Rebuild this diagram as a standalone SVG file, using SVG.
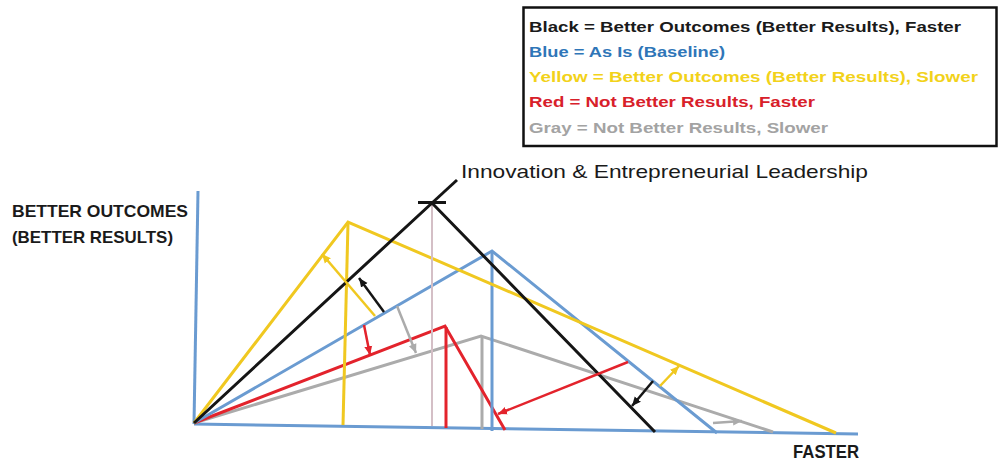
<svg xmlns="http://www.w3.org/2000/svg" width="998" height="461" viewBox="0 0 998 461">
<style>
  text { font-family: "Liberation Sans", Arial, sans-serif; }
  .leg { font-size: 15px; font-weight: bold; }
  .ln { fill: none; stroke-width: 3; stroke-linejoin: miter; stroke-linecap: butt; }
  .ar { fill: none; stroke-width: 2.5; }
  .k { stroke: #151515; }
  .b { stroke: #6A9BD1; }
  .y { stroke: #F0C820; }
  .r { stroke: #E3232C; }
  .g { stroke: #ABABAB; }
</style>
<defs>
  <marker id="mk" markerUnits="userSpaceOnUse" markerWidth="10" markerHeight="10" refX="9" refY="5" orient="auto"><path d="M0,1 L9,5 L0,9 z" fill="#151515"/></marker>
  <marker id="my" markerUnits="userSpaceOnUse" markerWidth="10" markerHeight="10" refX="9" refY="5" orient="auto"><path d="M0,1 L9,5 L0,9 z" fill="#F0C820"/></marker>
  <marker id="mr" markerUnits="userSpaceOnUse" markerWidth="10" markerHeight="10" refX="9" refY="5" orient="auto"><path d="M0,1 L9,5 L0,9 z" fill="#E3232C"/></marker>
  <marker id="mg" markerUnits="userSpaceOnUse" markerWidth="10" markerHeight="10" refX="9" refY="5" orient="auto"><path d="M0,1 L9,5 L0,9 z" fill="#ABABAB"/></marker>
</defs>
<rect width="998" height="461" fill="#ffffff"/>

<g id="legend">
  <rect x="523.5" y="7.5" width="473" height="138.5" fill="#ffffff" stroke="#111" stroke-width="2.5"/>
  <text class="leg" x="529" y="32" fill="#1a1a1a" textLength="432" lengthAdjust="spacingAndGlyphs">Black = Better Outcomes (Better Results), Faster</text>
  <text class="leg" x="529" y="57" fill="#2F76B8" textLength="196" lengthAdjust="spacingAndGlyphs">Blue = As Is (Baseline)</text>
  <text class="leg" x="529" y="82" fill="#F2D21A" textLength="449" lengthAdjust="spacingAndGlyphs">Yellow = Better Outcomes (Better Results), Slower</text>
  <text class="leg" x="529" y="107" fill="#D8202A" textLength="286" lengthAdjust="spacingAndGlyphs">Red = Not Better Results, Faster</text>
  <text class="leg" x="529" y="133" fill="#A3A3A3" textLength="299" lengthAdjust="spacingAndGlyphs">Gray = Not Better Results, Slower</text>
</g>

<g id="axes">
  <line class="ln b" x1="198" y1="191" x2="194" y2="424"/>
  <line class="ln b" x1="194" y1="424" x2="858" y2="434"/>
  <text x="12" y="217" font-size="17" font-weight="bold" fill="#1a1a1a" textLength="176" lengthAdjust="spacingAndGlyphs">BETTER OUTCOMES</text>
  <text x="12" y="243" font-size="17" font-weight="bold" fill="#1a1a1a" textLength="161" lengthAdjust="spacingAndGlyphs">(BETTER RESULTS)</text>
  <text x="793" y="458" font-size="18" font-weight="bold" fill="#1a1a1a" textLength="66" lengthAdjust="spacingAndGlyphs">FASTER</text>
</g>

<g id="gray-triangle">
  <polyline class="ln g" points="194,423 481,336 773,432"/>
  <line class="ln g" x1="482" y1="336" x2="482" y2="429"/>
</g>
<g id="red-triangle">
  <polyline class="ln r" points="194,423 445,326 505,430"/>
  <line class="ln r" x1="446" y1="327" x2="446" y2="428"/>
</g>
<g id="blue-triangle">
  <polyline class="ln b" points="194,423 492,251 717,433"/>
  <line class="ln b" x1="492" y1="252" x2="492" y2="431"/>
</g>
<g id="yellow-triangle">
  <polyline class="ln y" points="194,423 348,222 836,433"/>
  <line class="ln y" x1="348" y1="223" x2="343" y2="425"/>
</g>
<g id="black-triangle">
  <line x1="432" y1="205" x2="432" y2="426" stroke="#D4BFC6" stroke-width="2"/>
  <polyline class="ln k" points="194,423 432,203 655,432"/>
  <line class="ln k" x1="418" y1="202.5" x2="446" y2="202.5"/>
  <line class="ln k" x1="432" y1="203" x2="457" y2="180"/>
  <text x="461" y="178" font-size="19" fill="#1a1a1a" textLength="407" lengthAdjust="spacingAndGlyphs">Innovation &amp; Entrepreneurial Leadership</text>
</g>

<g id="connectors">
  <line class="ar k" x1="384" y1="312" x2="359" y2="278" marker-end="url(#mk)"/>
  <line class="ar y" x1="375" y1="316" x2="322" y2="254" marker-end="url(#my)"/>
  <line class="ar g" x1="397" y1="306" x2="416" y2="353" marker-end="url(#mg)"/>
  <line class="ar r" x1="364" y1="325" x2="370" y2="355" marker-end="url(#mr)"/>
  <line class="ar r" x1="628" y1="362" x2="498" y2="414" marker-end="url(#mr)"/>
  <line class="ar k" x1="653" y1="381" x2="632" y2="406" marker-end="url(#mk)"/>
  <line class="ar y" x1="660" y1="386" x2="679" y2="366" marker-end="url(#my)"/>
  <line class="ar g" x1="713" y1="423" x2="742" y2="421" marker-end="url(#mg)"/>
</g>
</svg>
